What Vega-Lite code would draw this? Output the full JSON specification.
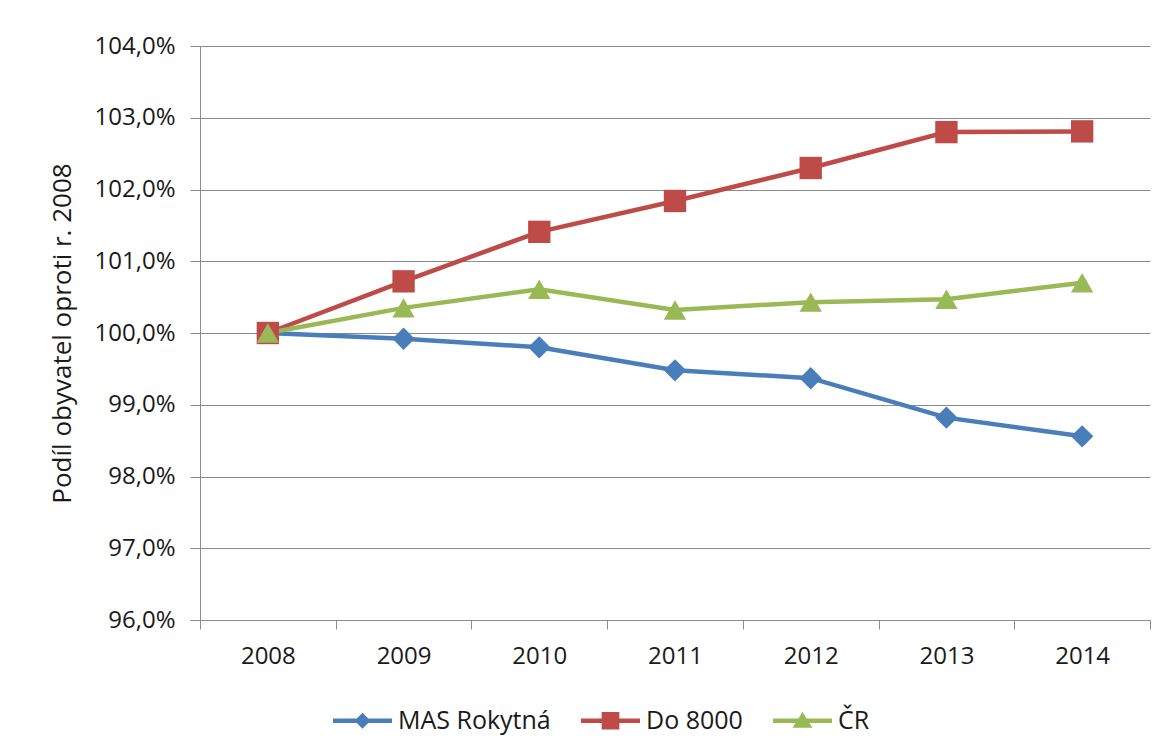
{
  "$schema": "https://vega.github.io/schema/vega-lite/v6.json",
  "width": 950,
  "height": 574,
  "autosize": "none",
  "padding": {"left": 200, "top": 46, "right": 18, "bottom": 133},
  "background": "white",
  "config": {"view": {"stroke": null}, "font": "Open Sans"},
  "data": {"values": [
    {"series": "MAS Rokytná", "year": "2008", "value": 100.0},
    {"series": "MAS Rokytná", "year": "2009", "value": 99.92},
    {"series": "MAS Rokytná", "year": "2010", "value": 99.80},
    {"series": "MAS Rokytná", "year": "2011", "value": 99.48},
    {"series": "MAS Rokytná", "year": "2012", "value": 99.37},
    {"series": "MAS Rokytná", "year": "2013", "value": 98.82},
    {"series": "MAS Rokytná", "year": "2014", "value": 98.56},
    {"series": "Do 8000", "year": "2008", "value": 100.0},
    {"series": "Do 8000", "year": "2009", "value": 100.72},
    {"series": "Do 8000", "year": "2010", "value": 101.41},
    {"series": "Do 8000", "year": "2011", "value": 101.84},
    {"series": "Do 8000", "year": "2012", "value": 102.30},
    {"series": "Do 8000", "year": "2013", "value": 102.80},
    {"series": "Do 8000", "year": "2014", "value": 102.81},
    {"series": "ČR", "year": "2008", "value": 100.0},
    {"series": "ČR", "year": "2009", "value": 100.35},
    {"series": "ČR", "year": "2010", "value": 100.61},
    {"series": "ČR", "year": "2011", "value": 100.32},
    {"series": "ČR", "year": "2012", "value": 100.43},
    {"series": "ČR", "year": "2013", "value": 100.47},
    {"series": "ČR", "year": "2014", "value": 100.70}
  ]},
  "encoding": {
    "x": {
      "field": "year", "type": "ordinal", "bandPosition": 0.5,
      "scale": {"type": "band", "paddingInner": 0, "paddingOuter": 0},
      "axis": {"title": null, "labelAngle": 0, "tickBand": "extent", "grid": false,
        "domainColor": "#8c8c8c", "tickColor": "#8c8c8c", "tickSize": 9,
        "labelFontSize": 24, "labelColor": "#1a1a1a", "labelPadding": 15, "labelFont": "Open Sans"}
    },
    "y": {
      "field": "value", "type": "quantitative",
      "scale": {"domain": [96, 104], "zero": false, "nice": false},
      "axis": {"values": [96, 97, 98, 99, 100, 101, 102, 103, 104],
        "labelExpr": "replace(format(datum.value,'.1f'),'.',',') + '%'",
        "grid": true, "gridColor": "#8c8c8c", "gridWidth": 1,
        "domainColor": "#8c8c8c", "tickColor": "#8c8c8c", "tickSize": 10,
        "labelFontSize": 24, "labelColor": "#1a1a1a", "labelPadding": 15, "labelFont": "Open Sans",
        "title": "Podíl obyvatel oproti r. 2008", "titleFontSize": 26, "titleFontWeight": "normal",
        "titleColor": "#1a1a1a", "titleFont": "Open Sans", "titlePadding": 19}
    },
    "color": {
      "field": "series", "type": "nominal",
      "scale": {"domain": ["MAS Rokytná", "Do 8000", "ČR"], "range": ["#4A7EBB", "#BE4B48", "#98B954"]},
      "legend": null
    }
  },
  "layer": [
    {"mark": {"type": "line", "strokeWidth": 4.5}},
    {
      "mark": {"type": "point", "filled": true, "opacity": 1, "size": 500},
      "encoding": {
        "shape": {"field": "series", "type": "nominal",
          "scale": {"domain": ["MAS Rokytná", "Do 8000", "ČR"], "range": ["diamond", "square", "triangle-up"]},
          "legend": null}
      }
    },
    {
      "transform": [{"filter": "datum.year == 'none'"}],
      "mark": {"type": "point", "filled": true, "opacity": 1},
      "encoding": {
        "color": {
          "field": "series", "type": "nominal",
          "scale": {"domain": ["MAS Rokytná", "Do 8000", "ČR"], "range": ["#4A7EBB", "#BE4B48", "#98B954"]},
          "legend": {
            "orient": "none", "legendX": 133, "legendY": 645, "direction": "horizontal",
            "title": null, "labelFontSize": 25, "labelFont": "Open Sans", "labelColor": "#1a1a1a",
            "symbolSize": 3481, "symbolStrokeWidth": 0, "symbolOpacity": 1,
            "labelOffset": 6, "columnPadding": 30
          }
        },
        "shape": {"field": "series", "type": "nominal",
          "scale": {"domain": ["MAS Rokytná", "Do 8000", "ČR"],
            "range": [
              "M-1,-0.08H1V0.08H-1Z M0,-0.27L0.27,0L0,0.27L-0.27,0Z",
              "M-1,-0.08H1V0.08H-1Z M-0.3,-0.3H0.3V0.3H-0.3Z",
              "M-1,-0.08H1V0.08H-1Z M0,-0.3L0.34,0.24H-0.34Z"
            ]},
          "legend": {
            "orient": "none", "legendX": 133, "legendY": 645, "direction": "horizontal",
            "title": null, "labelFontSize": 25, "labelFont": "Open Sans", "labelColor": "#1a1a1a",
            "symbolSize": 3481, "symbolStrokeWidth": 0, "symbolOpacity": 1,
            "labelOffset": 6, "columnPadding": 30
          }
        }
      }
    }
  ],
  "resolve": {"scale": {"shape": "independent", "color": "independent"}}
}
